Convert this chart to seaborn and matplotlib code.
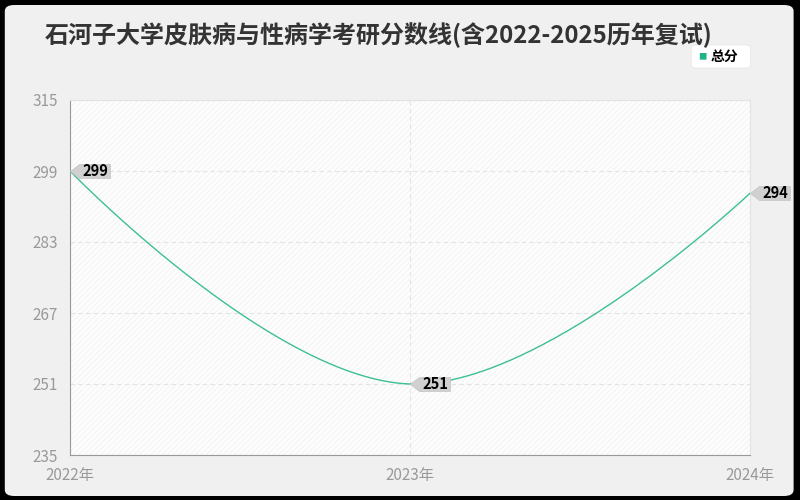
import numpy as np
import pandas as pd
import matplotlib
matplotlib.use("Agg")
import matplotlib.pyplot as plt
from matplotlib.patches import FancyBboxPatch
from matplotlib.path import Path
import seaborn as sns

years = [2022, 2023, 2024]
year_labels = ["2022年", "2023年", "2024年"]
scores = [299, 251, 294]
y_ticks = [235, 251, 267, 283, 299, 315]
title = "石河子大学皮肤病与性病学考研分数线(含2022-2025历年复试)"
series_name = "总分"

line_color = "#3dbf94"

# axes box in figure fractions
ax_rect = [0.0875, 0.09, 0.85, 0.71]


def smooth_curve(x, y, xr, yr, wpx, hpx, smooth=0.4, n=120):
    # bezier smoothing of the line between the points (drawing only),
    # end points keep zero-length handles
    px = (np.asarray(x, float) - xr[0]) / (xr[1] - xr[0]) * wpx
    py = (np.asarray(y, float) - yr[0]) / (yr[1] - yr[0]) * hpx
    pts = np.column_stack([px, py])
    last = len(pts) - 1
    cps = []
    for i in range(len(pts)):
        if i == 0 or i == last:
            cps.append((pts[i], pts[i]))
            continue
        prev, nxt = pts[i - 1], pts[i + 1]
        v = nxt - prev
        d0 = np.hypot(*(pts[i] - prev))
        d1 = np.hypot(*(nxt - pts[i]))
        s = d0 + d1
        cps.append((pts[i] - v * smooth * d0 / s, pts[i] + v * smooth * d1 / s))
    out = []
    t = np.linspace(0, 1, n)[:, None]
    for i in range(last):
        p0, c1, c2, p3 = pts[i], cps[i][1], cps[i + 1][0], pts[i + 1]
        out.append((1 - t)**3 * p0 + 3 * (1 - t)**2 * t * c1 + 3 * (1 - t) * t**2 * c2 + t**3 * p3)
    out = np.vstack(out)
    cx = out[:, 0] / wpx * (xr[1] - xr[0]) + xr[0]
    cy = out[:, 1] / hpx * (yr[1] - yr[0]) + yr[0]
    return cx, cy


sns.set_style("white")
plt.rcParams['font.family'] = ['Noto Sans CJK SC', 'DejaVu Sans']
plt.rcParams['hatch.linewidth'] = 0.6

fig = plt.figure(figsize=(8, 5), dpi=100, facecolor="black")
bg = FancyBboxPatch((0.006, 0.008), 0.986, 0.982, boxstyle="round,pad=0,rounding_size=0.012",
                    transform=fig.transFigure, facecolor="#f0f0f0", edgecolor="none", zorder=-10)
fig.patches.append(bg)

ax = fig.add_axes(ax_rect)
ax.patch.set_facecolor("#fdfdfd")
ax.patch.set_hatch("//////")
ax.patch.set_edgecolor("#f2f2f2")

xlim = (years[0], years[-1])
ylim = (y_ticks[0], y_ticks[-1])
sx, sy = smooth_curve(years, scores, xlim, ylim, ax_rect[2] * 800, ax_rect[3] * 500)
curve = pd.DataFrame({"year": sx, "score": sy})
sns.lineplot(data=curve, x="year", y="score", ax=ax, color=line_color, linewidth=1.0,
             estimator=None, sort=False, zorder=3)

# tag shape: tip at the data point, arrow to the left
tag_w, tag_tip, tag_h = 40, 9, 7
tag = Path([(0, 0), (tag_tip, tag_h), (tag_w, tag_h), (tag_w, -tag_h), (tag_tip, -tag_h), (0, 0)],
           [Path.MOVETO, Path.LINETO, Path.LINETO, Path.LINETO, Path.LINETO, Path.CLOSEPOLY])
tag_size = 2 * tag_w * 0.72

for yr, sc in zip(years, scores):
    ax.plot(yr, sc, marker=tag, markersize=tag_size, color="#d0d0d0", markeredgecolor="#c4c4c4",
            markeredgewidth=0.5, clip_on=False, zorder=4)
    ax.annotate(str(sc), (yr, sc), xytext=(25 * 0.72, 0), textcoords="offset points",
                ha="center", va="center", fontsize=10.5, color="black", fontweight="bold",
                zorder=5, annotation_clip=False)

ax.set_xlim(*xlim)
ax.set_ylim(*ylim)
ax.set_xticks(years)
ax.set_xticklabels(year_labels)
ax.set_yticks(y_ticks)
ax.set_xlabel("")
ax.set_ylabel("")
ax.grid(True, color="#e3e3e3", linestyle=(0, (4, 3)), linewidth=0.8)
ax.tick_params(axis="both", colors="#999999", labelsize=11, length=5, width=0.8,
               labelcolor="#999999")
for side in ["left", "bottom"]:
    ax.spines[side].set_color("#999999")
    ax.spines[side].set_linewidth(0.8)
for side in ["right", "top"]:
    ax.spines[side].set_color("#e3e3e3")
    ax.spines[side].set_linewidth(0.8)

fig.text(0.056, 0.93, title, fontsize=17.3, fontweight="bold", color="#333333",
         ha="left", va="center")

leg_box = FancyBboxPatch((0.864, 0.864), 0.074, 0.046, boxstyle="round,pad=0,rounding_size=0.006",
                         transform=fig.transFigure, facecolor="white", edgecolor="#e6e6e6",
                         linewidth=0.5)
fig.patches.append(leg_box)
fig.text(0.878, 0.887, "■", fontsize=6, color="#1fb389", ha="center", va="center")
fig.text(0.888, 0.887, series_name, fontsize=10, color="black", fontweight="bold",
         ha="left", va="center")

fig.savefig("out.png", dpi=100, facecolor=fig.get_facecolor())
